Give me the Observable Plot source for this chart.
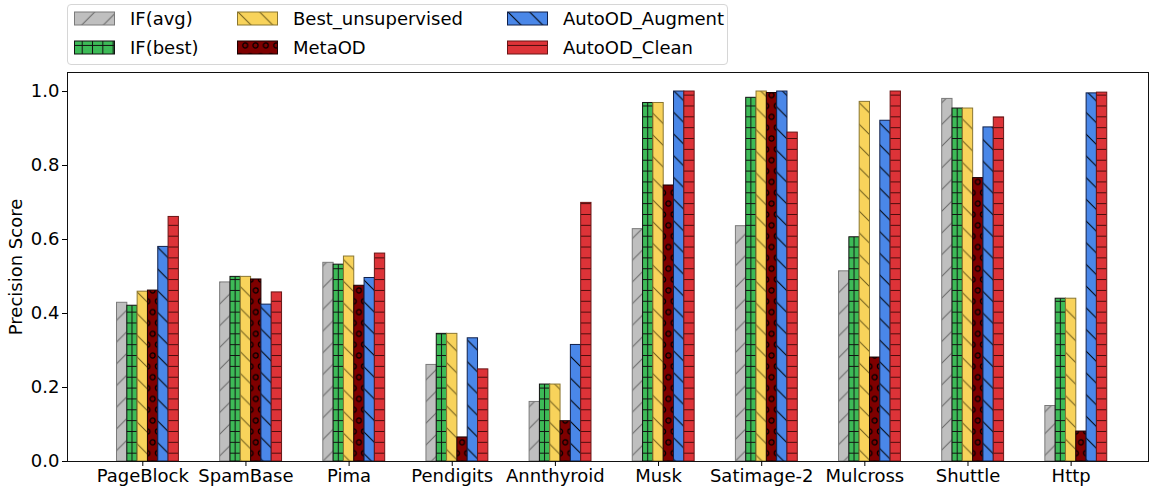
<!DOCTYPE html>
<html>
<head>
<meta charset="utf-8">
<script src="https://cdn.jsdelivr.net/npm/d3@7"></script>
<script src="https://cdn.jsdelivr.net/npm/@observablehq/plot@0.6"></script>
<style>
  body { margin: 0; background: #fff; font-family: "DejaVu Sans", sans-serif; }
  #wrap { position: relative; width: 1150px; height: 489px; overflow: hidden; background: #fff; }
  #legend { position: relative; height: 68px; }
  #legbox { position: absolute; left: 67px; top: 4px; width: 661px; height: 61px; border: 1px solid #d6d6d6;
            border-radius: 4px; box-sizing: border-box; background: #fff; }
  .item { position: absolute; display: flex; align-items: center; height: 20px; font-size: 18px; color: #000; white-space: nowrap; }
  .item svg { margin-right: 15px; flex: none; }
  #defs { position: absolute; width: 0; height: 0; }
  #chart svg { display: block; }
</style>
</head>
<body>
<svg id="defs" width="0" height="0"><defs id="patdefs"></defs></svg>
<div id="wrap">
  <div id="legend"><div id="legbox"></div></div>
  <div id="chart"></div>
</div>
<script>
// ---------------- data ----------------
const datasets = ["PageBlock", "SpamBase", "Pima", "Pendigits", "Annthyroid", "Musk", "Satimage-2", "Mulcross", "Shuttle", "Http"];
const methods = ["IF(avg)", "IF(best)", "Best_unsupervised", "MetaOD", "AutoOD_Augment", "AutoOD_Clean"];
const ifAvg       = [0.429, 0.484, 0.537, 0.261, 0.161, 0.628, 0.636, 0.514, 0.980, 0.150];
const ifBest      = [0.421, 0.499, 0.532, 0.345, 0.208, 0.969, 0.983, 0.606, 0.954, 0.440];
const bestUnsup   = [0.459, 0.499, 0.554, 0.345, 0.208, 0.969, 1.000, 0.972, 0.954, 0.440];
const metaOD      = [0.462, 0.492, 0.475, 0.065, 0.109, 0.746, 0.996, 0.281, 0.766, 0.081];
const autoAugment = [0.580, 0.424, 0.496, 0.333, 0.315, 1.000, 1.000, 0.921, 0.903, 0.995];
const autoClean   = [0.661, 0.457, 0.562, 0.249, 0.699, 1.000, 0.889, 1.000, 0.930, 0.997];
const yTicks = [0, 0.2, 0.4, 0.6, 0.8, 1.0];
const yLabel = "Precision Score";

// ---------------- styles ----------------
const series = [ifAvg, ifBest, bestUnsup, metaOD, autoAugment, autoClean];
const fills = ["#bfbfbf", "#3dbb57", "#f8d35b", "#7f0000", "#4a87e8", "#dd3338"];
const edges = ["#7a7a7a", "#111111", "#8a7630", "#1a0000", "#10204a", "#6a1515"];
const hatchInk = ["#666666", "#111111", "#6e5c1c", "#000000", "#000000", "#4a0c0c"];

const SLOTS = 10, FIRST = 2, TICK_SLOT = 4;
const slotKey = (d, j) => `${d}|${j}`;
const domainX = datasets.flatMap(d => d3.range(SLOTS).map(j => slotKey(d, j)));

const rows = [];
methods.forEach((m, i) => datasets.forEach((d, k) =>
  rows.push({dataset: d, method: m, mi: i, value: series[i][k], key: slotKey(d, FIRST + i)})));

const plot = Plot.plot({
  width: 1150,
  height: 421,
  marginTop: 4,
  marginBottom: 28,
  marginLeft: 67,
  marginRight: 2,
  style: {fontFamily: '"DejaVu Sans", sans-serif', fontSize: "18px", color: "#000", background: "#fff", overflow: "visible"},
  x: {type: "band", domain: domainX, paddingInner: 0, paddingOuter: 2.4, align: 0.5833, round: false},
  y: {domain: [0, 1.0514]},
  color: {type: "identity"},
  marks: [
    Plot.barY(rows, {x: "key", y: "value", fill: d => `url(#hatch${d.mi})`, stroke: d => edges[d.mi], strokeWidth: 1}),
    Plot.frame({stroke: "#111", strokeWidth: 1}),
    Plot.axisY({ticks: yTicks, tickFormat: d3.format(".1f"), tickSize: 5, tickPadding: 3,
                label: yLabel, labelAnchor: "center", labelArrow: "none", labelOffset: 58}),
    Plot.axisX({ticks: datasets.map(d => slotKey(d, TICK_SLOT)), tickFormat: k => k.split("|")[0],
                tickSize: 5, tickPadding: 3, label: null})
  ]
});
document.getElementById("chart").appendChild(plot);

// ---------------- hatch patterns ----------------
const xs = plot.scale("x");
const step = xs.step || xs.bandwidth;
const x0 = xs.apply ? xs.apply(domainX[0]) : 67 + 2.8 * step;
const T = 21.7, H = 10.85;
function diag(id, bg, ink, back) {
  const p = back
    ? `M0,0L${T},${T}M${-2},${T - 2}L2,${T + 2}M${T - 2},-2L${T + 2},2`
    : `M0,${T}L${T},0M-2,2L2,-2M${T - 2},${T + 2}L${T + 2},${T - 2}`;
  return `<pattern id="${id}" patternUnits="userSpaceOnUse" width="${T}" height="${T}">
    <rect width="${T}" height="${T}" fill="${bg}"/><path d="${p}" stroke="${ink}" stroke-width="1" fill="none"/></pattern>`;
}
const defs = [
  diag("hatch0", fills[0], hatchInk[0], false),
  `<pattern id="hatch1" patternUnits="userSpaceOnUse" x="${x0}" y="0" width="${step}" height="${H}">
    <rect width="${step}" height="${H}" fill="${fills[1]}"/>
    <path d="M0,${H / 2}H${step}M${step / 2},0V${H}" stroke="${hatchInk[1]}" stroke-width="1" fill="none"/></pattern>`,
  diag("hatch2", fills[2], hatchInk[2], true),
  `<pattern id="hatch3" patternUnits="userSpaceOnUse" x="${x0}" y="0" width="${step}" height="${2 * H}">
    <rect width="${step}" height="${2 * H}" fill="${fills[3]}"/>
    <circle cx="${step / 2}" cy="${H / 2}" r="2.5" stroke="${hatchInk[3]}" stroke-width="1.2" fill="none"/>
    <circle cx="0" cy="${1.5 * H}" r="2.5" stroke="${hatchInk[3]}" stroke-width="1.2" fill="none"/>
    <circle cx="${step}" cy="${1.5 * H}" r="2.5" stroke="${hatchInk[3]}" stroke-width="1.2" fill="none"/></pattern>`,
  diag("hatch4", fills[4], hatchInk[4], true),
  `<pattern id="hatch5" patternUnits="userSpaceOnUse" width="${step}" height="${H}">
    <rect width="${step}" height="${H}" fill="${fills[5]}"/>
    <path d="M0,${H / 2}H${step}" stroke="${hatchInk[5]}" stroke-width="1" fill="none"/></pattern>`
];
document.getElementById("patdefs").innerHTML = defs.join("");

// ---------------- legend ----------------
const box = document.getElementById("legbox");
const colLeft = [6, 169, 439];
const rowTop = [3, 32];
methods.forEach((m, i) => {
  const col = Math.floor(i / 2), row = i % 2;
  const div = document.createElement("div");
  div.className = "item";
  div.style.left = colLeft[col] + "px";
  div.style.top = rowTop[row] + "px";
  div.innerHTML = `<svg width="41" height="15"><rect x="0.5" y="1" width="40" height="13" fill="url(#hatch${i})" stroke="${edges[i]}" stroke-width="1"/></svg><span>${m}</span>`;
  box.appendChild(div);
});
</script>
</body>
</html>
